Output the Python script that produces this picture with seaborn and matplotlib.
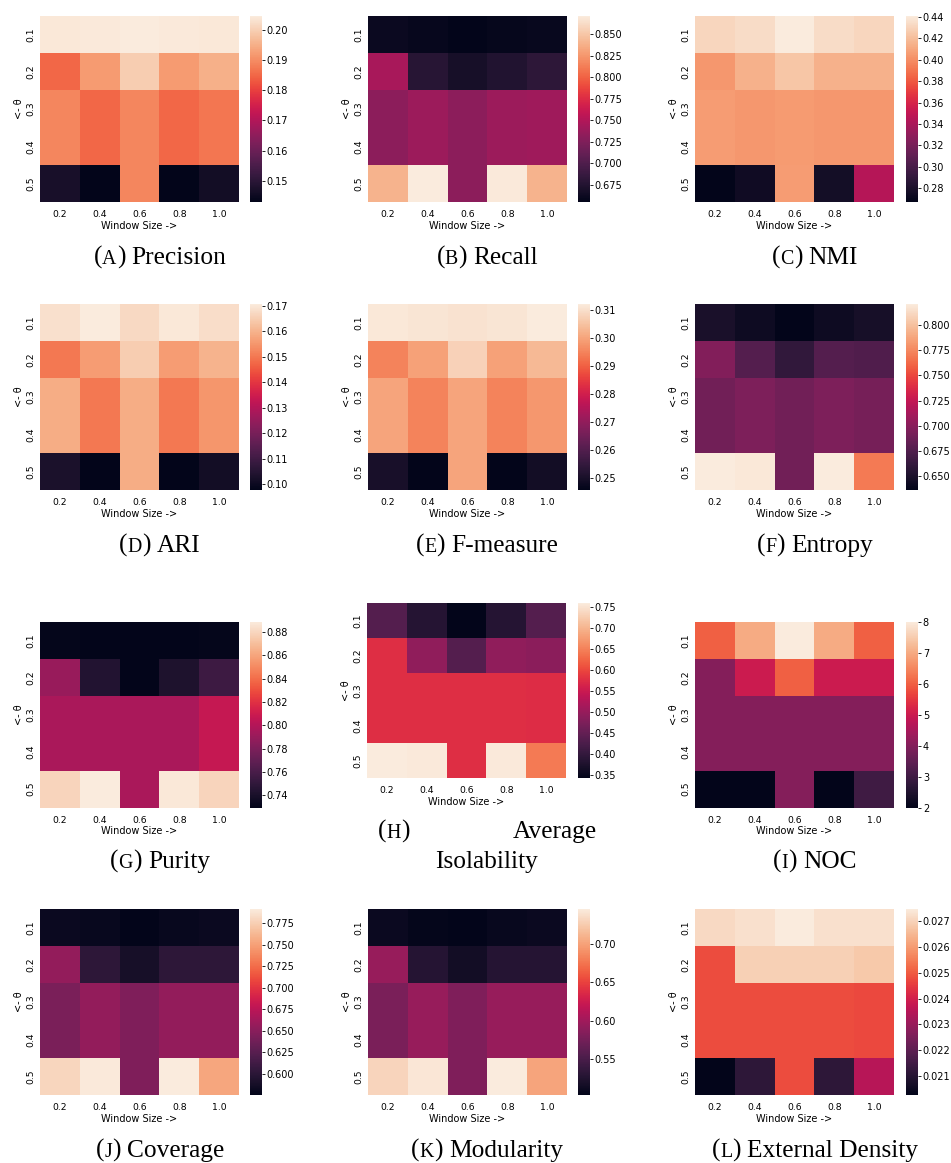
import numpy as np
import pandas as pd
import matplotlib
matplotlib.use("Agg")
import matplotlib.pyplot as plt
from matplotlib.ticker import MultipleLocator
import seaborn as sns

# Grid parameters
theta = ["0.1", "0.2", "0.3", "0.4", "0.5"]
window = ["0.2", "0.4", "0.6", "0.8", "1.0"]

# Metric values: rows = theta, columns = window size
precision = [
    [0.2040, 0.2042, 0.2046, 0.2043, 0.2040],
    [0.1850, 0.1920, 0.1997, 0.1920, 0.1950],
    [0.1890, 0.1850, 0.1890, 0.1850, 0.1870],
    [0.1890, 0.1850, 0.1890, 0.1850, 0.1870],
    [0.1470, 0.1430, 0.1890, 0.1432, 0.1460],
]
recall = [
    [0.661, 0.659, 0.655, 0.658, 0.660],
    [0.745, 0.677, 0.668, 0.674, 0.681],
    [0.731, 0.739, 0.731, 0.739, 0.741],
    [0.731, 0.739, 0.731, 0.739, 0.741],
    [0.839, 0.871, 0.731, 0.870, 0.839],
]
nmi = [
    [0.431, 0.434, 0.441, 0.434, 0.431],
    [0.404, 0.415, 0.424, 0.415, 0.415],
    [0.406, 0.404, 0.405, 0.404, 0.404],
    [0.406, 0.404, 0.405, 0.404, 0.404],
    [0.267, 0.274, 0.406, 0.276, 0.345],
]
ari = [
    [0.1685, 0.1707, 0.1670, 0.1700, 0.1680],
    [0.1500, 0.1560, 0.1650, 0.1560, 0.1600],
    [0.1590, 0.1500, 0.1590, 0.1500, 0.1550],
    [0.1590, 0.1500, 0.1590, 0.1500, 0.1550],
    [0.1030, 0.0978, 0.1590, 0.0980, 0.1015],
]
fmeasure = [
    [0.3115, 0.3110, 0.3105, 0.3110, 0.3121],
    [0.2950, 0.2995, 0.3075, 0.2995, 0.3035],
    [0.3000, 0.2950, 0.3000, 0.2950, 0.2980],
    [0.3000, 0.2950, 0.3000, 0.2950, 0.2980],
    [0.2500, 0.2458, 0.3000, 0.2460, 0.2490],
]
entropy = [
    [0.649, 0.643, 0.636, 0.643, 0.647],
    [0.697, 0.677, 0.660, 0.677, 0.675],
    [0.690, 0.695, 0.690, 0.695, 0.692],
    [0.690, 0.695, 0.690, 0.695, 0.692],
    [0.821, 0.819, 0.690, 0.821, 0.769],
]
purity = [
    [0.7310, 0.7300, 0.7295, 0.7300, 0.7310],
    [0.7900, 0.7440, 0.7295, 0.7420, 0.7550],
    [0.7960, 0.7960, 0.7960, 0.7960, 0.8070],
    [0.7960, 0.7960, 0.7960, 0.7960, 0.8070],
    [0.8790, 0.8886, 0.7960, 0.8870, 0.8790],
]
isolability = [
    [0.434, 0.384, 0.342, 0.384, 0.434],
    [0.577, 0.493, 0.434, 0.493, 0.488],
    [0.577, 0.577, 0.577, 0.577, 0.575],
    [0.577, 0.577, 0.577, 0.577, 0.575],
    [0.760, 0.757, 0.577, 0.757, 0.643],
]
noc = [
    [6, 7, 8, 7, 6],
    [4, 5, 6, 5, 5],
    [4, 4, 4, 4, 4],
    [4, 4, 4, 4, 4],
    [2, 2, 4, 2, 3],
]
coverage = [
    [0.5820, 0.5800, 0.5756, 0.5800, 0.5820],
    [0.6550, 0.6010, 0.5890, 0.6010, 0.6010],
    [0.6430, 0.6550, 0.6450, 0.6550, 0.6550],
    [0.6430, 0.6550, 0.6450, 0.6550, 0.6550],
    [0.7790, 0.7900, 0.6450, 0.7916, 0.7530],
]
modularity = [
    [0.510, 0.505, 0.503, 0.508, 0.510],
    [0.595, 0.527, 0.515, 0.527, 0.527],
    [0.578, 0.595, 0.581, 0.595, 0.595],
    [0.578, 0.595, 0.581, 0.595, 0.595],
    [0.731, 0.743, 0.581, 0.746, 0.702],
]
ext_density = [
    [0.02712, 0.02726, 0.02748, 0.02726, 0.02726],
    [0.02480, 0.02697, 0.02697, 0.02697, 0.02683],
    [0.02480, 0.02480, 0.02480, 0.02480, 0.02472],
    [0.02480, 0.02480, 0.02480, 0.02480, 0.02472],
    [0.02026, 0.02113, 0.02480, 0.02113, 0.02351],
]

letters = ["A", "B", "C", "D", "E", "F", "G", "H", "I", "J", "K", "L"]
titles = ["Precision", "Recall", "NMI", "ARI", "F-measure", "Entropy",
          "Purity", "Average Isolability", "NOC", "Coverage", "Modularity",
          "External Density"]
metrics = [precision, recall, nmi, ari, fmeasure, entropy,
           purity, isolability, noc, coverage, modularity, ext_density]
# colorbar tick spacing per panel (None = automatic)
cbar_steps = [None, None, None, None, None, None,
              None, 0.05, None, None, None, None]

W, H = 951, 1163
fig = plt.figure(figsize=(W / 100, H / 100), dpi=100)

col_x = [40, 368, 695]
cbar_x = [250, 578, 906]
row_y = [16, 304, 621.7, 909]
hm_w, hm_h, cb_w = 199, 186, 12
cap_cx = [160, 487, 815]
cap_base = [264, 552, 868, 1157]


def px_rect(x, y, w, h):
    return [x / W, 1 - (y + h) / H, w / W, h / H]


def draw_heatmap(idx):
    r, c = divmod(idx, 3)
    x, y, h = col_x[c], row_y[r], hm_h
    if letters[idx] == "H":
        x, y, h = 367, 603, 175
    ax = fig.add_axes(px_rect(x, y, hm_w, h))
    cax = fig.add_axes(px_rect(cbar_x[c], y, cb_w, h))
    df = pd.DataFrame(metrics[idx], index=theta, columns=window)
    sns.heatmap(df, ax=ax, cbar_ax=cax, cmap="rocket")
    ax.set_xlabel("Window Size ->", fontsize=7, labelpad=1)
    ax.set_ylabel("<- θ", fontsize=7, labelpad=2)
    ax.tick_params(axis="both", length=0, labelsize=6.7, pad=6)
    ax.tick_params(axis="y", pad=3)
    plt.setp(ax.get_yticklabels(), rotation=90, va="center")
    plt.setp(ax.get_xticklabels(), rotation=0)
    if cbar_steps[idx] is not None:
        cax.yaxis.set_major_locator(MultipleLocator(cbar_steps[idx]))
    cax.tick_params(labelsize=7, length=2.5, width=0.6, pad=1)


for i in range(12):
    draw_heatmap(i)

renderer = fig.canvas.get_renderer()
serif = "Liberation Serif"
big, small = 18.3, 14.3


def text_width(s, size):
    t = fig.text(0, 0, s, fontsize=size, family=serif)
    w = t.get_window_extent(renderer).width
    t.remove()
    return w


def put(s, x, ybase, size):
    fig.text(x / W, 1 - ybase / H, s, fontsize=size, family=serif,
             ha="left", va="baseline")


def caption(cx, ybase, letter, title):
    gap = text_width("a a", big) - text_width("aa", big)
    parts = [("(", big), (letter, small), (")", big)]
    widths = [text_width(s, sz) for s, sz in parts]
    tw = text_width(title, big)
    total = sum(widths) + gap + tw
    x = cx - total / 2
    for (s, sz), w in zip(parts, widths):
        put(s, x, ybase, sz)
        x += w
    put(title, x + gap, ybase, big)


for i in range(12):
    r, c = divmod(i, 3)
    if letters[i] == "H":
        # two-line justified caption
        left, right = 378, 597
        parts = [("(", big), ("H", small), (")", big)]
        x = left
        for s, sz in parts:
            put(s, x, 838, sz)
            x += text_width(s, sz)
        fig.text(right / W, 1 - 838 / H, "Average", fontsize=big,
                 family=serif, ha="right", va="baseline")
        fig.text(487 / W, 1 - 868 / H, "Isolability", fontsize=big,
                 family=serif, ha="center", va="baseline")
    else:
        caption(cap_cx[c], cap_base[r], letters[i], titles[i])

fig.savefig("out.png", dpi=100)
